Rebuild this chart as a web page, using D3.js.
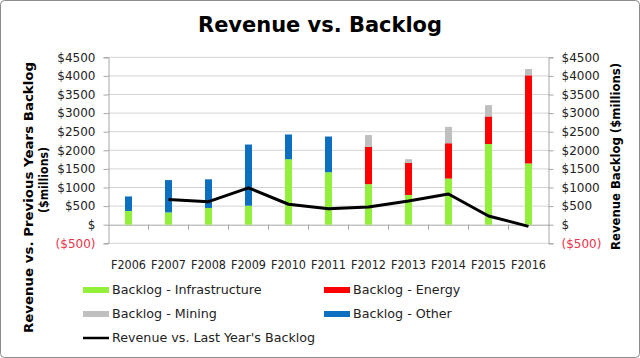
<!DOCTYPE html>
<html><head><meta charset="utf-8">
<script src="https://cdn.jsdelivr.net/npm/d3@7"></script>
<style>body{margin:0;background:#fff}svg{display:block}</style>
</head><body>
<script>
const categories = ["F2006","F2007","F2008","F2009","F2010","F2011","F2012","F2013","F2014","F2015","F2016"];
const infrastructure = [370, 330, 450, 510, 1760, 1410, 1090, 800, 1240, 2170, 1645];
const energy         = [0, 0, 0, 0, 0, 0, 1005, 860, 950, 740, 2370];
const mining         = [0, 0, 0, 0, 0, 0, 315, 100, 440, 305, 170];
const other          = [390, 870, 770, 1645, 665, 960, 0, 0, 0, 0, 0];
const revenueVsLast  = [null, 680, 620, 990, 550, 430, 475, 635, 825, 235, -45];
const yTicks = [-500, 0, 500, 1000, 1500, 2000, 2500, 3000, 3500, 4000, 4500];

const W = 640, H = 358;
const font = "'DejaVu Sans', sans-serif";
const svg = d3.select("body").append("svg").attr("width", W).attr("height", H)
  .style("font-family", font);

svg.append("rect").attr("x",0.5).attr("y",0.5).attr("width",W-1).attr("height",H-1)
  .attr("rx",4).attr("fill","#fff").attr("stroke","#8c8c8c");

const L = 108.5, R = 548.5, T = 57.3, B = 243.3;
const x = d3.scaleBand().domain(categories).range([L, R]).paddingInner(0).paddingOuter(0);
const y = d3.scaleLinear().domain([-500, 4500]).range([B, T]);

const fmt = v => v < 0 ? "($" + (-v) + ")" : (v === 0 ? "$" : "$" + v);

// gridlines
svg.append("g").selectAll("line").data(yTicks.filter(v => v !== 0)).join("line")
  .attr("x1", L).attr("x2", R).attr("y1", d => y(d)).attr("y2", d => y(d))
  .attr("stroke", "#d4d4d4").attr("stroke-width", 1);

// axes
const gl = svg.append("g").attr("transform", `translate(${L},0)`)
  .call(d3.axisLeft(y).tickValues(yTicks).tickFormat(fmt).tickSize(5).tickPadding(8));
const gr = svg.append("g").attr("transform", `translate(${R},0)`)
  .call(d3.axisRight(y).tickValues(yTicks).tickFormat(fmt).tickSize(5).tickPadding(8));
[gl, gr].forEach(g => {
  g.selectAll("path,line").attr("stroke", "#a6a6a6");
  g.selectAll("text").style("font-size", "12px").style("font-family", font)
    .attr("fill", d => d < 0 ? "#e8334a" : "#222");
});

// x axis at zero
const gx = svg.append("g").attr("transform", `translate(0,${y(0)})`)
  .call(d3.axisBottom(x).tickSize(0).tickPadding(0));
gx.select("path").attr("stroke", "#a6a6a6");
gx.selectAll("text").remove();
svg.append("g").selectAll("line").data(categories.slice(1)).join("line")
  .attr("x1", d => x(d)).attr("x2", d => x(d)).attr("y1", y(0)).attr("y2", y(0) + 5)
  .attr("stroke", "#a6a6a6");
svg.append("g").selectAll("text").data(categories).join("text")
  .attr("x", d => x(d) + x.bandwidth()/2).attr("y", 268.5)
  .attr("text-anchor", "middle").style("font-size", "11.5px").attr("fill", "#222")
  .attr("textLength", 35).attr("lengthAdjust", "spacingAndGlyphs").text(d => d);

// stacked bars
const rows = categories.map((c, i) => ({cat: c, infrastructure: infrastructure[i], energy: energy[i], mining: mining[i], other: other[i]}));
const keys = ["infrastructure", "energy", "mining", "other"];
const colors = {infrastructure: "#92f03a", energy: "#ff0000", mining: "#bfbfbf", other: "#0d6fbf"};
const stack = d3.stack().keys(keys)(rows);
const bw = 7;
svg.append("g").selectAll("g").data(stack).join("g").attr("fill", s => colors[s.key])
  .selectAll("rect").data(s => s).join("rect")
  .attr("x", d => x(d.data.cat) + x.bandwidth()/2 - bw/2)
  .attr("width", bw)
  .attr("y", d => y(d[1]))
  .attr("height", d => Math.max(0, y(d[0]) - y(d[1])));

// line
const lineData = categories.map((c, i) => ({cat: c, v: revenueVsLast[i]})).filter(d => d.v !== null);
svg.append("path").datum(lineData)
  .attr("d", d3.line().x(d => x(d.cat) + x.bandwidth()/2).y(d => y(d.v)))
  .attr("fill", "none").attr("stroke", "#000").attr("stroke-width", 3).attr("stroke-linejoin", "round");

// title
svg.append("text").attr("x", 320).attr("y", 32).attr("text-anchor", "middle")
  .style("font-size", "21px").style("font-weight", "bold").attr("fill", "#000")
  .attr("textLength", 244).attr("lengthAdjust", "spacingAndGlyphs").text("Revenue vs. Backlog");

// axis titles
svg.append("text").attr("transform", `translate(33,197.5) rotate(-90)`)
  .attr("text-anchor", "middle").style("font-size", "13px").style("font-weight", "bold")
  .attr("textLength", 271).attr("lengthAdjust", "spacingAndGlyphs")
  .text("Revenue vs. Previous Years Backlog");
svg.append("text").attr("transform", `translate(48,180) rotate(-90)`)
  .attr("text-anchor", "middle").style("font-size", "13px").style("font-weight", "bold")
  .attr("textLength", 66).attr("lengthAdjust", "spacingAndGlyphs")
  .text("($millions)");
svg.append("text").attr("transform", `translate(620,156.5) rotate(-90)`)
  .attr("text-anchor", "middle").style("font-size", "13px").style("font-weight", "bold")
  .attr("textLength", 187).attr("lengthAdjust", "spacingAndGlyphs")
  .text("Revenue Backlog ($millions)");

// legend
const legend = [
  {label: "Backlog - Infrastructure", color: colors.infrastructure, x: 83, y: 290, type: "rect"},
  {label: "Backlog - Energy", color: colors.energy, x: 324, y: 290, type: "rect"},
  {label: "Backlog - Mining", color: colors.mining, x: 83, y: 314, type: "rect"},
  {label: "Backlog - Other", color: colors.other, x: 324, y: 314, type: "rect"},
  {label: "Revenue vs. Last Year's Backlog", color: "#000", x: 83, y: 338, type: "line"}
];
const lg = svg.append("g").selectAll("g").data(legend).join("g")
  .attr("transform", d => `translate(${d.x},${d.y})`);
lg.filter(d => d.type === "rect").append("rect").attr("x", 0).attr("y", -3).attr("width", 26).attr("height", 6).attr("fill", d => d.color);
lg.filter(d => d.type === "line").append("line").attr("x1", 0).attr("x2", 26).attr("y1", 0).attr("y2", 0).attr("stroke", "#000").attr("stroke-width", 2.5);
lg.append("text").attr("x", 29).attr("y", 0).attr("dy", "0.35em").style("font-size", "12.7px").attr("fill", "#222").text(d => d.label);
</script>
</body></html>
